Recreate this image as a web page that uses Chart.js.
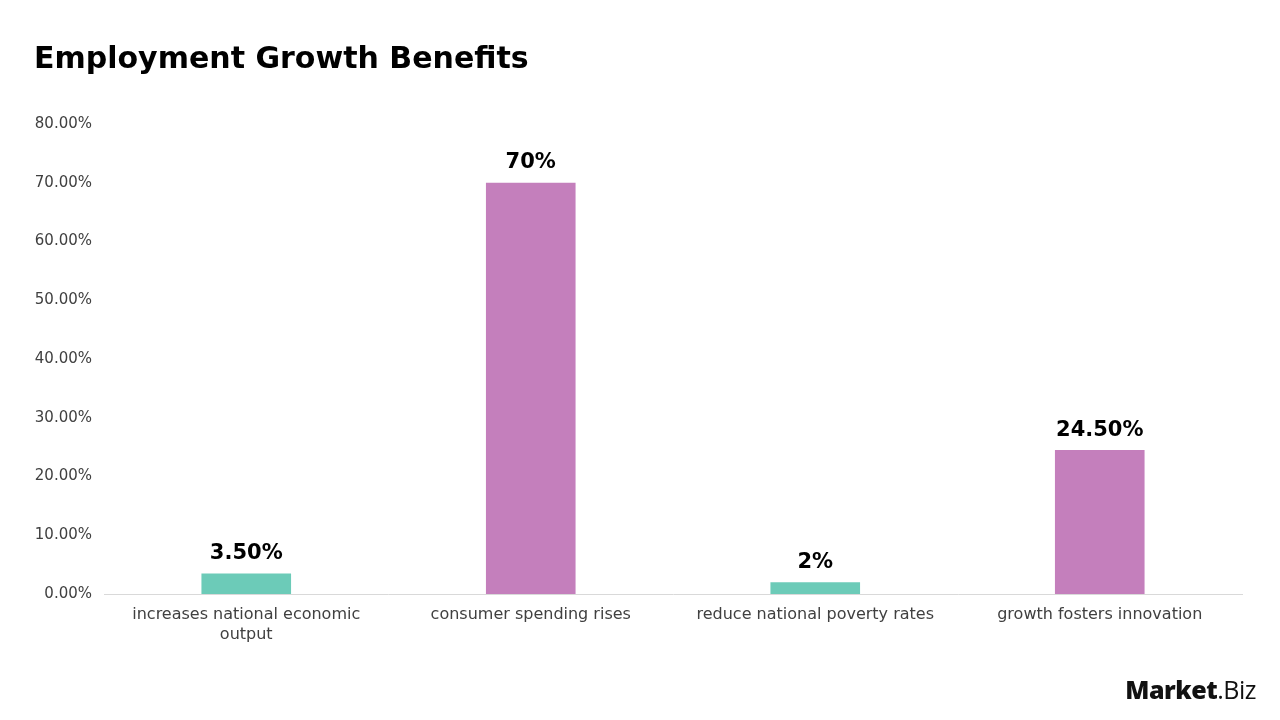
<!DOCTYPE html>
<html>
<head>
<meta charset="utf-8">
<script src="https://cdn.jsdelivr.net/npm/chart.js@4.4.1/dist/chart.umd.min.js"></script>
<style>
  html, body { margin: 0; padding: 0; background: #fff; }
  #wrap { position: relative; width: 1280px; height: 720px; }
  #logo { position: absolute; right: 24px; bottom: 14px; font-family: "Open Sans", sans-serif; font-size: 25px; color: #111; letter-spacing: -0.5px; }
  #logo b { font-weight: 800; }
</style>
</head>
<body>
<div id="wrap">
  <canvas id="myChart" width="1280" height="720"></canvas>
  <div id="logo"><b>Market</b>.Biz</div>
</div>
<script>
const categories = [
  ["increases national economic", "output"],
  "consumer spending rises",
  "reduce national poverty rates",
  "growth fosters innovation"
];
const values = [3.5, 70, 2, 24.5];
const valueLabels = ["3.50%", "70%", "2%", "24.50%"];
const barColors = ["#6ccbb8", "#c47fbc", "#6ccbb8", "#c47fbc"];

const FONT = "'DejaVu Sans', sans-serif";

// labels drawn above each bar
const barLabels = {
  id: "barLabels",
  afterDatasetsDraw(chart){
    const ctx = chart.ctx;
    const meta = chart.getDatasetMeta(0);
    ctx.save();
    ctx.font = "bold 21px " + FONT;
    ctx.fillStyle = "#000";
    ctx.textAlign = "center";
    ctx.textBaseline = "middle";
    meta.data.forEach((bar, i) => {
      ctx.fillText(valueLabels[i], bar.x, bar.y - 20);
    });
    ctx.restore();
  }
};

new Chart("myChart", {
  type: "bar",
  data: {
    labels: categories,
    datasets: [{
      data: values,
      backgroundColor: barColors,
      barPercentage: 0.45,
      categoryPercentage: 0.7
    }]
  },
  options: {
    responsive: false,
    animation: false,
    layout: { padding: { left: 34, right: 38, top: 0, bottom: 0 } },
    plugins: {
      legend: { display: false },
      tooltip: { enabled: false },
      title: {
        display: true,
        text: "Employment Growth Benefits",
        align: "start",
        color: "#000",
        font: { family: FONT, size: 30, weight: "bold" },
        padding: { top: 42, bottom: 46 }
      }
    },
    scales: {
      y: {
        min: 0,
        max: 80,
        ticks: {
          stepSize: 10,
          padding: 12,
          color: "#404040",
          font: { family: FONT, size: 15 },
          callback: v => v.toFixed(2) + "%"
        },
        grid: { display: false, drawTicks: false },
        border: { display: false },
        afterFit(scale){ scale.width = 70; }
      },
      x: {
        ticks: {
          padding: 10,
          color: "#404040",
          font: { family: FONT, size: 16, lineHeight: 1.3 },
          maxRotation: 0
        },
        grid: { display: false, drawTicks: false },
        border: { color: "#d9d9d9", width: 1 },
        afterFit(scale){ scale.height = 126; }
      }
    }
  },
  plugins: [barLabels]
});
</script>
</body>
</html>
